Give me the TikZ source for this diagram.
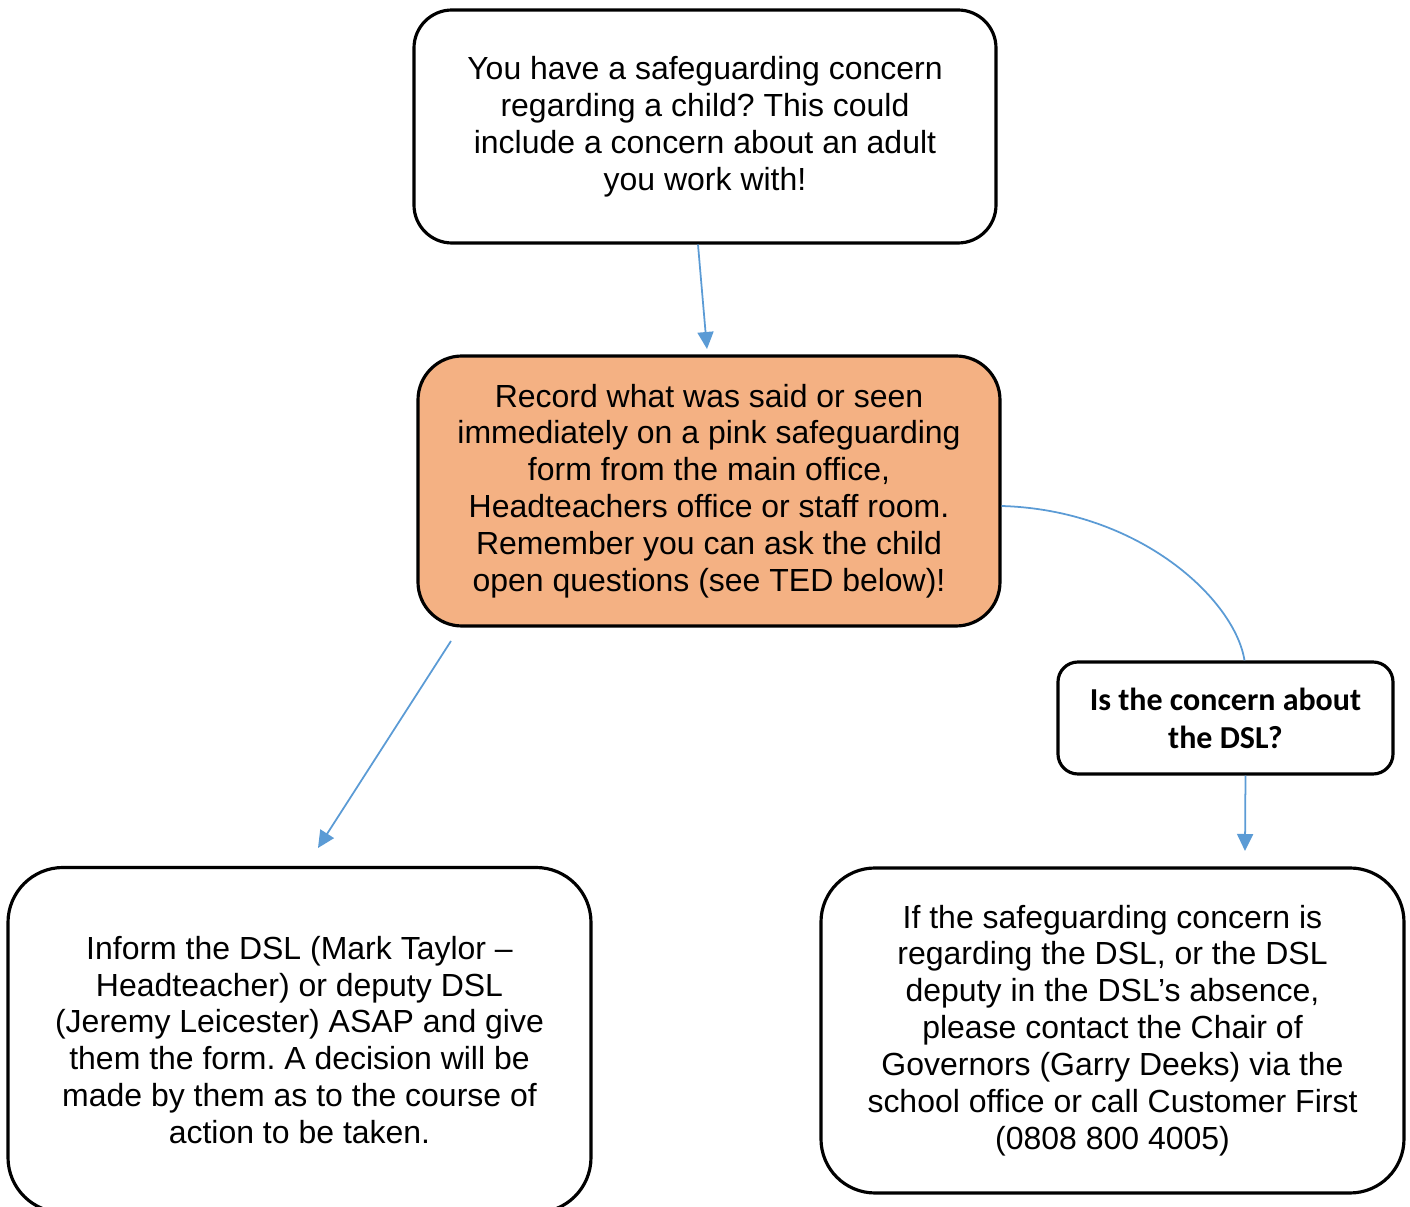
\documentclass[tikz,border=0pt]{standalone}
\usepackage{fontspec}
\setmainfont{Liberation Sans}
\newfontfamily\calibri{Carlito}
\usetikzlibrary{arrows.meta}
\definecolor{orangefill}{HTML}{F4B183}
\definecolor{arrowblue}{HTML}{5B9BD5}
\frenchspacing
\begin{document}
\begin{tikzpicture}[>={Triangle[length=0.17cm,width=0.16cm]},
	box/.style={draw, line width=0.9pt, align=center, inner sep=0pt,
		font=\fontsize{9.1}{10.5}\selectfont},
	flow/.style={->, arrowblue, line width=0.5pt}]
		% Frame
		\useasboundingbox (0,0) rectangle (14.10,-12.07);
		
		% Boxes
		\node[box, minimum width=5.82cm, minimum height=2.33cm, rounded corners=0.38cm]
		(concern) at (7.05,-1.265)
		{You have a safeguarding concern\\regarding a child? This could\\include a concern about an adult\\you work with!};
		
		\node[box, fill=orangefill, minimum width=5.82cm, minimum height=2.70cm, rounded corners=0.44cm]
		(record) at (7.09,-4.91)
		{Record what was said or seen\\immediately on a pink safeguarding\\form from the main office,\\Headteachers office or staff room.\\Remember you can ask the child\\open questions (see TED below)!};
		
		\node[box, minimum width=3.35cm, minimum height=1.12cm, rounded corners=0.2cm,
		font=\calibri\bfseries\fontsize{9.1}{10.8}\selectfont]
		(aboutdsl) at (12.255,-7.18)
		{Is the concern about\\the DSL?};
		
		\node[box, minimum width=5.83cm, minimum height=3.45cm, rounded corners=0.55cm]
		(inform) at (2.995,-10.40)
		{Inform the DSL (Mark Taylor –\\Headteacher) or deputy DSL\\(Jeremy Leicester) ASAP and give\\them the form. A decision will be\\made by them as to the course of\\action to be taken.};
		
		\node[box, minimum width=5.83cm, minimum height=3.25cm, rounded corners=0.54cm]
		(governors) at (11.125,-10.305)
		{If the safeguarding concern is\\regarding the DSL, or the DSL\\deputy in the DSL’s absence,\\please contact the Chair of\\Governors (Garry Deeks) via the\\school office or call Customer First\\(0808 800 4005)};
		
		% Arrow ends
		\coordinate (tipA) at (7.07,-3.49);
		\coordinate (startB) at (4.51,-6.41);
		\coordinate (tipB) at (3.18,-8.48);
		\coordinate (tipC) at (12.45,-8.51);
		
		% Connectors
		\draw[flow] ([xshift=-0.07cm]concern.south) -- (tipA);
		\draw[flow] (startB) -- (tipB);
		\draw[arrowblue, line width=0.5pt] ([yshift=-0.15cm]record.east)
		.. controls (11.4,-5.1) and (12.35,-6.0) .. ([xshift=0.19cm]aboutdsl.north);
		\draw[flow] ([xshift=0.2cm]aboutdsl.south) -- (tipC);
		
\end{tikzpicture}
\end{document}
